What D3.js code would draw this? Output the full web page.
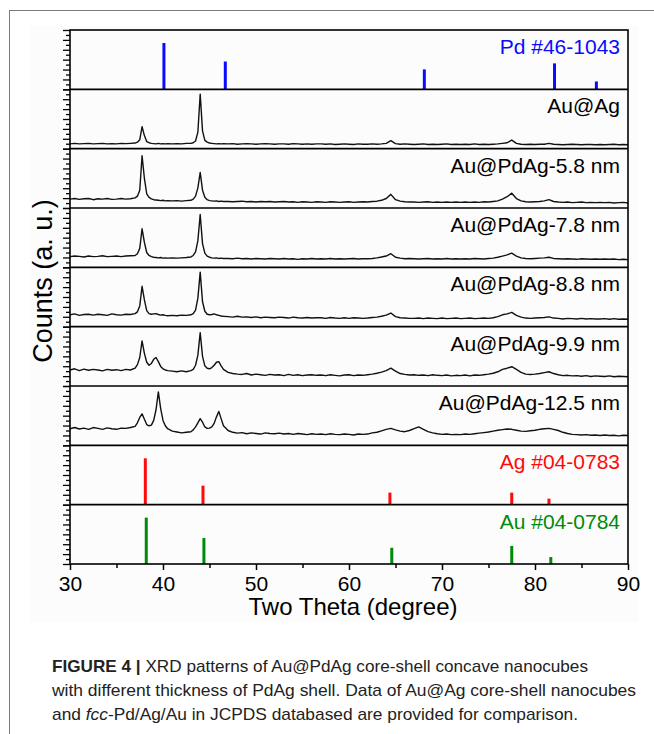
<!DOCTYPE html>
<html>
<head>
<meta charset="utf-8">
<script src="https://cdn.jsdelivr.net/npm/d3@7"></script>
<style>
  html, body { margin: 0; padding: 0; background: #fff; }
  svg { display: block; }
  text { font-family: "Liberation Sans", Arial, sans-serif; }
</style>
</head>
<body>
<svg id="fig" width="654" height="734"></svg>
<script>
// ---- Two-theta sampling grid (degrees) shared by the measured patterns ----
const twoTheta = [
  30,30.5,31,31.5,32,32.5,33,33.5,34,34.5,35,35.5,36,36.5,
  37,37.25,37.5,37.75,38,38.25,38.5,38.75,39,39.25,39.5,39.75,40,40.25,40.5,
  41,41.5,42,42.5,
  43,43.25,43.5,43.75,44,44.25,44.5,44.75,45,45.25,45.5,45.75,46,46.25,46.5,
  47,47.5,48,48.5,49,49.5,50,50.5,51,51.5,
  52,52.5,53,53.5,54,54.5,55,55.5,56,56.5,
  57,57.5,58,58.5,59,59.5,60,60.5,61,61.5,
  62,62.5,63,63.5,64,64.5,65,65.5,66,66.5,
  67,67.5,68,68.5,69,69.5,70,70.5,71,71.5,
  72,72.5,73,73.5,74,74.5,75,75.5,76,76.5,
  77,77.5,78,78.5,79,79.5,80,80.5,81,81.5,
  82,82.5,83,83.5,84,84.5,85,85.5,86,86.5,
  87,87.5,88,88.5,89,89.5,90
];

// ---- Measured intensities (relative counts, % of each panel's height) ----
const auAg = [
  8,9,8,8.5,9,8,8.5,9,8,8.5,8,9,8.5,9,
  9.5,11,15,37,22,12,10,9,8.5,8,9,8,8.5,8,8.5,
  8,8.5,8,9,
  9,10,13,28,92,30,14,11,9.5,9,8.5,8,8.5,8,8.5,
  8,8.5,7.5,8,8.5,8,7.5,8,8.5,8,
  7.5,8,8,7.5,8.5,8,7.5,8,7.5,8,
  8,7.5,8,7,7.5,8,7.5,7,8,7.5,
  7.5,8,7.5,8,9,13.5,8.5,7.5,8,7.5,
  7,7.5,8,7,7.5,7,7.5,8,7,7.5,
  7,7.5,7,8,7,7.5,7,7.5,8,9,
  10,14.5,9,7.5,7,7.5,7,7.5,7.5,9,
  7.5,7,6.5,7,7.5,7,6.5,7,7,6.5,
  7,6.5,7,7.5,6.5,7,6.5
];
const pdAg58 = [
  15,16,14.5,15.5,16,14,15.5,15,16,14.5,15,16,15,15.5,
  17,20,30,88,50,24,18,15.5,14,13.5,13,12.5,13,12,12.5,
  12,12.5,11.5,12.5,
  13,15,20,34,60,30,18,14,12.5,12,11.5,12,11,11.5,11,
  11,10.5,11,11.5,10.5,11,10,11,10.5,11,
  10,10.5,11,10,10.5,9.5,10.5,10,9.5,10.5,
  10,9.5,10.5,10,9.5,10,10.5,9.5,10,10.5,
  10,11,11.5,13,16,23,14,11.5,10.5,10,
  10,9.5,10,10.5,9.5,10,9.5,10,9.5,10,
  9.5,10,9.5,10,9.5,10.5,10,11,12,15,
  19,25,16,12,10.5,10,10.5,11,12,14,
  11,10,9.5,10,9,9.5,10,9,9.5,9,
  9.5,9,9.5,8.5,9,9.5,8.5
];
const pdAg78 = [
  18,19,18.5,17.5,19,18,18.5,19.5,18,18.5,19,18,19,19.5,
  20,23,32,65,42,25,20,18,17,16.5,16,16.5,15.5,16,15.5,
  16,15.5,16,16.5,
  17.5,20,26,45,89,40,24,19,17,16,15.5,16,15,15.5,15,
  15,14.5,15.5,14.5,15,14,15,14.5,14,15,
  14.5,14,15,14,14.5,13.5,14.5,14,15,14,
  14.5,14,15,14,14.5,14,14.5,15,14,14.5,
  14.5,15,16,17.5,19,23,17,15.5,14.5,15,
  14.5,14,14.5,15,14,14.5,14,15,14,14.5,
  14,14.5,14,15,14.5,14,15,15.5,17,19,
  21,24,19,16,15,14.5,15,15.5,16,17,
  15,14.5,14,14.5,14,13.5,14.5,14,13.5,14,
  13.5,14,13.5,14,13,13.5,13
];
const pdAg88 = [
  20,21.5,19,20.5,21,19.5,21,20,19,21.5,20,19.5,21,20.5,
  22,25,35,68,45,27,22,21,21.5,22,20.5,19.5,20,19,18.5,
  19,18.5,19.5,19,
  20,22,28,48,92,42,26,21,20,20.5,21.5,20,19,18,17.5,
  17,16,17.5,16,16.5,15.5,16.5,15,16,15.5,
  15,16,15.5,14.5,16,15,14.5,15.5,14.5,15,
  15,14,15.5,14.5,14,15,14,15,14.5,14,
  14.5,15.5,16,17.5,19.5,23,17,15,14.5,14,
  14,14.5,13.5,14.5,14,13.5,14.5,13.5,14,14.5,
  13.5,14,14.5,13.5,14,14.5,14,15,17,20,
  21.5,24,19,16,14.5,14,14.5,15,15.5,16.5,
  14.5,14,13,14,13.5,13,14,13,13.5,13,
  13,13.5,12.5,13.5,12.5,13,12.5
];
const pdAg99 = [
  27,29,26,28.5,26.5,28,27,25.5,28,26.5,27.5,26,28,27,
  30,36,48,76,55,40,35,38,45,48,41,33,29,27,26,
  25,24,25.5,24,
  26,28,35,52,90,50,34,30,29,31,35,40,41,34,28,
  23,21,20,19.5,21,18.5,20,19,18,19.5,
  18.5,19,17.5,19.5,18,19,17.5,18.5,19,18,
  18.5,17.5,19,18,17,18.5,19,17.5,18.5,18,
  19,20,21.5,23.5,26,30,25,21,19.5,18.5,
  19,18,18.5,17.5,19,18,17.5,18.5,17,18,
  17.5,18.5,17,18.5,18,19,20,21.5,24,28,
  30,32.5,28,23,20,19.5,20,21,22.5,24,
  21,19,17.5,18,17,17.5,16.5,17.5,16,17,
  16.5,16,17,15.5,16.5,16,15.5
];
const pdAg125 = [
  28,30,27.5,29,27,30,28.5,27,29.5,28,27,29,28.5,30,
  32,38,47,53,44,35,33,34,42,60,90,62,42,33,28,
  24,22.5,21,22,
  23,26,31,38,45,39,31,28.5,29,31,37,48,57,45,33,
  25,22,20.5,21.5,19.5,21,20,19,21,20,
  19.5,20.5,19,20,18.5,20,19,18,19.5,18.5,
  19,18,19.5,18.5,18,19,18.5,17.5,19,18.5,
  19,21,22,24.5,27,28.5,26,24,23,25,
  28,31,27,23,21,19.5,18.5,19,18,18.5,
  18,19,18.5,19.5,20.5,21.5,22.5,24,25.5,26.5,
  27.5,27,25.5,24,23.5,24.5,25.5,27,28,28.5,
  27,25,22,20,18.5,18,17.5,18,17,17.5,
  16.5,17.5,16.5,17,16,17,16.5
];

// ---- JCPDS reference lines: positions (deg) and relative intensities ----
const pdPos = [40.1, 46.7, 68.1, 82.1, 86.6];
const pdInt = [100, 60, 43, 56, 17];
const agPos = [38.1, 44.3, 64.4, 77.5, 81.5];
const agInt = [100, 41, 26, 26, 13];
const auPos = [38.2, 44.4, 64.6, 77.5, 81.7];
const auInt = [100, 56, 35, 39, 15];

// ---- Panel labels and axis ticks ----
const sampleNames = ["Au@Ag", "Au@PdAg-5.8 nm", "Au@PdAg-7.8 nm", "Au@PdAg-8.8 nm", "Au@PdAg-9.9 nm", "Au@PdAg-12.5 nm"];
const sampleSeries = [auAg, pdAg58, pdAg78, pdAg88, pdAg99, pdAg125];
const xMajorTicks = [30, 40, 50, 60, 70, 80, 90];
const xMinorTicks = [35, 45, 55, 65, 75, 85];

const svg = d3.select("#fig");

// page frame and figure backdrop
svg.append("rect").attr("x", 30).attr("y", 26).attr("width", 608).attr("height", 596).attr("fill", "#fcfcfc");
svg.append("line").attr("x1", 9.5).attr("x2", 654).attr("y1", 10.5).attr("y2", 10.5).attr("stroke", "#7a7a7a").attr("stroke-width", 1);
svg.append("line").attr("x1", 9.5).attr("x2", 9.5).attr("y1", 10).attr("y2", 734).attr("stroke", "#7a7a7a").attr("stroke-width", 1);

const plotLeft = 70, plotRight = 628, plotTop = 30, plotBottom = 564;
const x = d3.scaleLinear().domain([30, 90]).range([plotLeft, plotRight]);
const nPanels = 9;
const band = d3.scaleBand().domain(d3.range(nPanels)).range([plotTop, plotBottom]).paddingInner(0).paddingOuter(0);

// panel descriptions in top-to-bottom order
const panels = [
  { kind: "stick", pos: pdPos, int: pdInt, color: "#0a0aff", label: "Pd #46-1043" },
  ...sampleSeries.map((s, i) => ({ kind: "curve", values: s, label: sampleNames[i], color: "#000" })),
  { kind: "stick", pos: agPos, int: agInt, color: "#ff0a0a", label: "Ag #04-0783" },
  { kind: "stick", pos: auPos, int: auInt, color: "#008a0a", label: "Au #04-0784" }
];

const g = svg.append("g");

panels.forEach((p, i) => {
  const y0 = band(i), y1 = band(i) + band.bandwidth();
  const pg = g.append("g");

  if (p.kind === "stick") {
    const ys = d3.scaleLinear().domain([0, 128]).range([y1, y0]);
    pg.selectAll("line.stick").data(p.pos.map((d, k) => ({ pos: d, int: p.int[k] })))
      .join("line")
      .attr("x1", d => x(d.pos)).attr("x2", d => x(d.pos))
      .attr("y1", ys(0)).attr("y2", d => ys(d.int))
      .attr("stroke", p.color).attr("stroke-width", 3);
  } else {
    const ys = d3.scaleLinear().domain([0, 100]).range([y1, y0]);
    const line = d3.line().x((d, k) => x(twoTheta[k])).y(d => ys(d)).curve(d3.curveLinear);
    pg.append("path").datum(p.values)
      .attr("d", line)
      .attr("fill", "none").attr("stroke", "#111").attr("stroke-width", 1.4)
      .attr("stroke-linejoin", "round");
  }

  pg.append("text")
    .attr("x", 620).attr("y", y0 + 24)
    .attr("text-anchor", "end")
    .attr("font-size", 21)
    .attr("fill", p.kind === "stick" ? p.color : "#000")
    .text(p.label);

  // left ticks for each stacked panel
  const yt = d3.scaleLinear().domain([0, 12]).range([y1, y0]);
  const minor = d3.axisLeft(yt).tickValues(d3.range(1, 12, 2)).tickSize(4).tickFormat("");
  const major = d3.axisLeft(yt).tickValues(d3.range(0, 13, 2)).tickSize(7).tickFormat("");
  [minor, major].forEach(ax => {
    const a = pg.append("g").attr("transform", `translate(${plotLeft},0)`).call(ax);
    a.select(".domain").remove();
    a.selectAll("line").attr("stroke", "#000").attr("stroke-width", 1.3);
  });
});

// panel separators and frame
g.selectAll("line.sep").data(d3.range(1, nPanels)).join("line")
  .attr("x1", plotLeft).attr("x2", plotRight)
  .attr("y1", d => band(d)).attr("y2", d => band(d))
  .attr("stroke", "#000").attr("stroke-width", 1.6);
g.append("rect").attr("x", plotLeft).attr("y", plotTop).attr("width", plotRight - plotLeft).attr("height", plotBottom - plotTop)
  .attr("fill", "none").attr("stroke", "#000").attr("stroke-width", 1.6);

// x axis
const xMaj = d3.axisBottom(x).tickValues(xMajorTicks).tickSize(6).tickPadding(6).tickFormat(d3.format("d"));
const xMin = d3.axisBottom(x).tickValues(xMinorTicks).tickSize(4).tickFormat("");
[xMin, xMaj].forEach(ax => {
  const a = svg.append("g").attr("transform", `translate(0,${plotBottom})`).call(ax);
  a.select(".domain").remove();
  a.selectAll("line").attr("stroke", "#000").attr("stroke-width", 1.5);
  a.selectAll("text").attr("font-size", 21).attr("fill", "#000")
    .attr("font-family", "Liberation Sans, Arial, sans-serif");
});

svg.append("text").attr("x", (plotLeft + plotRight) / 2 + 4).attr("y", 615)
  .attr("text-anchor", "middle").attr("font-size", 24).attr("fill", "#000")
  .text("Two Theta (degree)");

svg.append("text").attr("transform", "translate(52,281) rotate(-90)")
  .attr("text-anchor", "middle").attr("font-size", 27).attr("fill", "#000")
  .text("Counts (a. u.)");

// caption
const cap = svg.append("g").attr("fill", "#222").attr("font-size", 17);
const l1 = cap.append("text").attr("x", 52).attr("y", 672).attr("textLength", 536).attr("lengthAdjust", "spacingAndGlyphs");
l1.append("tspan").attr("font-weight", "bold").text("FIGURE 4 | ");
l1.append("tspan").text("XRD patterns of Au@PdAg core-shell concave nanocubes");
cap.append("text").attr("x", 52).attr("y", 696).attr("textLength", 584).attr("lengthAdjust", "spacingAndGlyphs")
  .text("with different thickness of PdAg shell. Data of Au@Ag core-shell nanocubes");
const l3 = cap.append("text").attr("x", 52).attr("y", 720).attr("textLength", 526).attr("lengthAdjust", "spacingAndGlyphs");
l3.append("tspan").text("and ");
l3.append("tspan").attr("font-style", "italic").text("fcc");
l3.append("tspan").text("-Pd/Ag/Au in JCPDS databased are provided for comparison.");
</script>
</body>
</html>
